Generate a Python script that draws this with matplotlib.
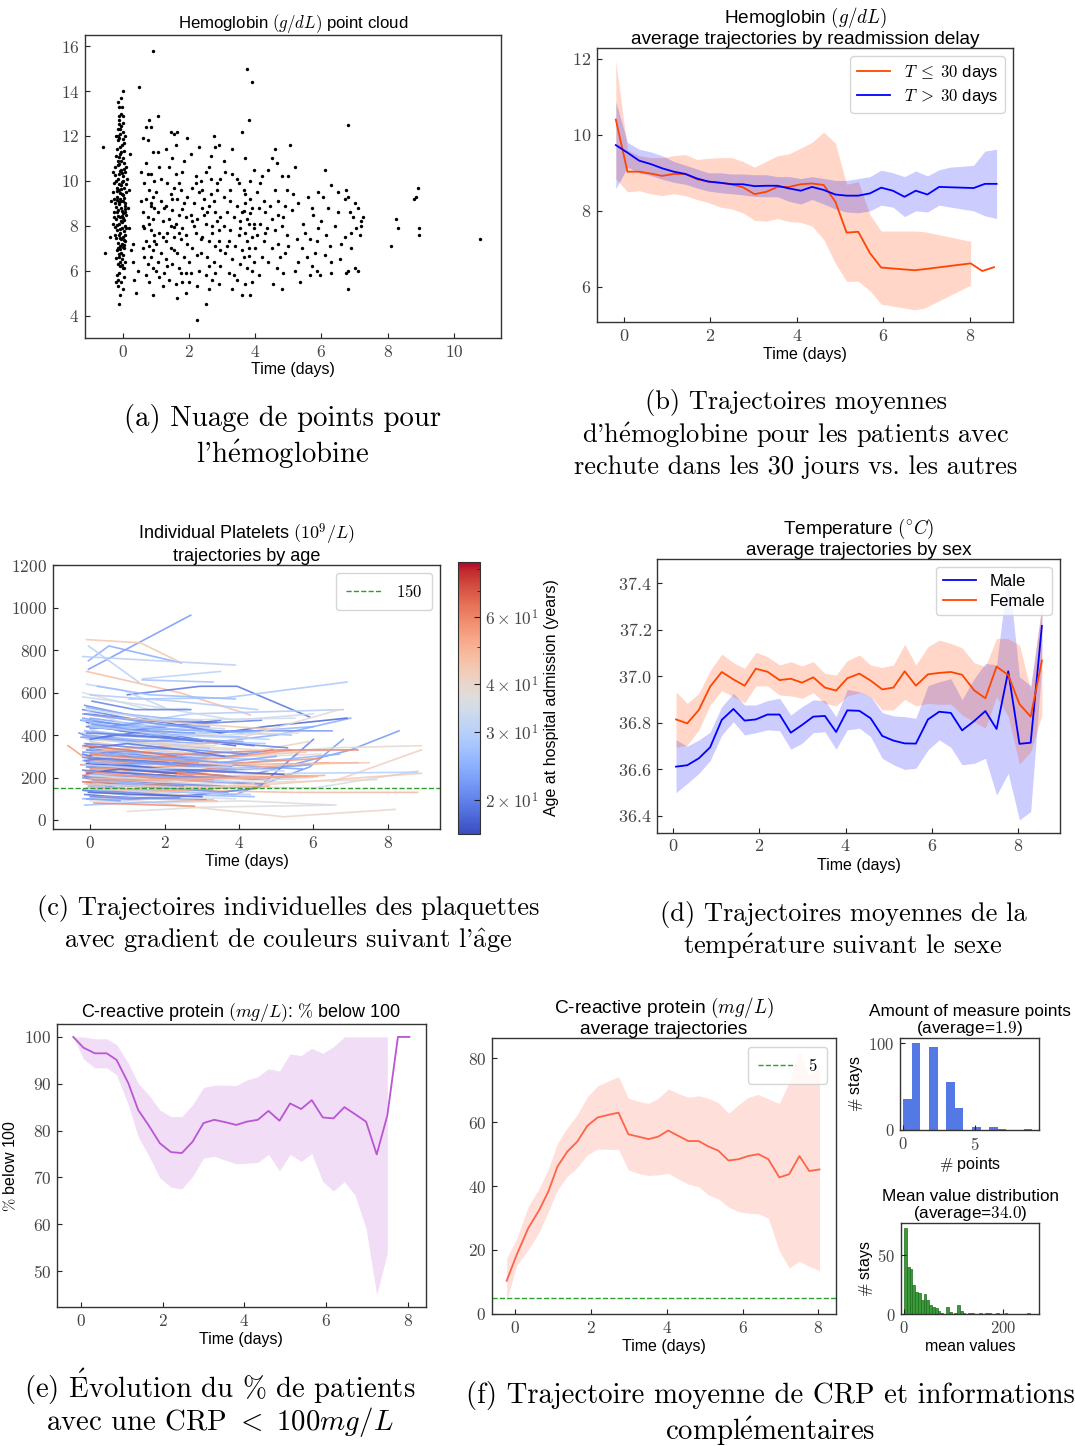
import numpy as np
import matplotlib
matplotlib.use("Agg")
import matplotlib.pyplot as plt
from matplotlib.colors import LogNorm
from matplotlib.cm import ScalarMappable

plt.rcParams['font.family'] = ['Liberation Sans', 'DejaVu Sans']
plt.rcParams['mathtext.fontset'] = 'cm'
plt.rcParams['axes.unicode_minus'] = False

# ---------------- (a) hemoglobin point cloud ----------------
hb_points = [
    (-0.15,13.5),(-0.1,12.9),(-0.05,13.0),(-0.12,12.7),(-0.08,12.3),(0.0,12.6),(-0.2,12.0),(0.02,12.2),
    (-0.1,11.9),(-0.03,11.6),(0.05,11.7),(-0.18,11.4),(-0.07,11.2),(0.0,11.0),(-0.13,10.9),(0.03,10.8),
    (-0.22,10.6),(-0.05,10.5),(0.08,10.4),(-0.1,10.3),(-0.15,10.1),(0.0,10.0),(-0.25,9.9),(-0.06,9.8),
    (0.04,9.7),(-0.12,9.6),(-0.3,9.5),(0.1,9.5),(-0.02,9.4),(-0.17,9.3),(-0.08,9.2),(0.02,9.1),
    (-0.22,9.0),(-0.1,8.95),(0.06,8.9),(-0.04,8.8),(-0.14,8.7),(-0.27,8.6),(0.0,8.55),(0.09,8.5),
    (-0.09,8.4),(-0.19,8.3),(0.03,8.25),(-0.05,8.2),(-0.12,8.1),(0.07,8.0),(-0.24,7.95),(-0.01,7.9),
    (-0.16,7.8),(0.04,7.75),(-0.07,7.7),(-0.11,7.6),(0.01,7.5),(-0.2,7.45),(-0.04,7.4),(0.08,7.3),
    (-0.13,7.25),(-0.02,7.2),(-0.09,7.1),(0.05,7.0),(-0.17,6.9),(-0.06,6.8),(0.02,6.7),(-0.12,6.6),
    (-0.03,6.5),(0.06,6.4),(-0.15,6.3),(-0.08,6.2),(0.0,6.1),(-0.1,5.9),(-0.18,5.8),(0.04,5.7),
    (-0.06,5.5),(-0.13,5.3),(0.02,5.2),(-0.1,9.05),(-0.05,9.65),(0.0,10.2),(-0.14,10.7),(-0.08,11.5),
    (-0.03,8.65),(-0.21,8.85),(0.05,9.25),(-0.11,9.85),(-0.02,10.35),(-0.16,9.15),(0.01,8.35),(-0.07,7.85),
    (-0.13,8.45),(-0.26,9.2),(0.07,8.75),(-0.04,10.9),(-0.09,12.1),(0.0,7.05),(-0.19,6.55),(0.03,11.35),
    (-0.11,13.3),(-0.06,12.45),(0.09,10.6),(-0.23,10.25),(-0.35,9.1),(-0.3,8.1),(-0.4,7.5),(0.15,8.8),
    (0.2,9.6),(0.18,7.9),(0.25,6.9),(0.12,10.1),(0.22,11.2),(0.3,7.2),(0.35,5.6),(0.4,5.0),(0.3,6.4),
    (0.45,6.0),(-0.14,12.0),(-0.02,9.95),(-0.17,8.05),(0.06,7.6),(-0.08,6.95),(-0.12,11.05),(0.01,9.35),
    (-0.14,11.8),(-0.04,11.3),(0.04,10.55),(-0.19,10.0),(-0.09,9.45),(0.06,9.0),(-0.16,8.6),(-0.01,8.15),
    (-0.23,7.6),(0.03,7.15),(-0.11,6.75),(-0.02,6.25),(-0.14,5.6),(-0.07,4.9),(0.1,9.85),(-0.28,10.4),
    (-0.2,11.1),(-0.06,13.7),(0.0,14.0),(-0.13,12.3),(0.08,12.0),(-0.18,9.7),(-0.25,8.4),(0.1,7.9),
    (-0.08,7.45),(0.05,6.1),(-0.2,5.5),(0.02,12.9),(-0.1,10.75),(-0.05,9.1),(0.07,8.6),(-0.15,7.0),
    (-0.03,13.3),(-0.12,12.55),(0.0,11.85),(-0.07,10.45),(-0.17,9.55),(-0.02,8.45),(0.04,7.35),(-0.09,6.4),
    (0.8,12.7),(0.85,12.4),(0.75,11.8),(0.9,11.3),(0.6,11.9),(0.7,10.8),(0.55,10.4),(0.85,10.3),(0.95,10.0),
    (0.65,9.9),(0.8,9.6),(0.9,9.3),(0.7,9.2),(0.85,9.0),(0.95,8.8),(0.6,8.6),(0.75,8.4),(0.9,8.3),(0.8,8.1),
    (0.65,7.9),(0.85,7.8),(0.95,7.6),(0.7,7.3),(0.8,7.1),(0.9,6.9),(0.6,7.0),(0.85,6.6),(0.75,6.3),(0.9,6.1),
    (0.8,5.5),(1.05,12.9),(1.1,10.6),(1.0,9.5),(1.15,9.1),(1.05,8.6),(1.2,8.2),(1.1,7.7),(1.0,7.2),(1.2,7.5),
    (1.15,6.8),(1.05,6.4),(1.25,5.9),(1.1,5.7),
    (1.3,11.4),(1.45,12.2),(1.55,12.1),(1.65,12.2),(1.5,11.0),(1.4,10.6),(1.6,10.3),(1.35,9.9),(1.55,9.7),
    (1.75,9.6),(1.45,9.4),(1.65,9.2),(1.85,9.0),(1.3,8.9),(1.5,8.7),(1.7,8.5),(1.9,8.4),(1.4,8.3),(1.6,8.1),
    (1.8,7.9),(1.35,7.7),(1.55,7.5),(1.75,7.4),(1.95,7.2),(1.45,7.0),(1.65,6.8),(1.85,6.6),(1.3,6.5),(1.5,6.3),
    (1.7,6.1),(1.9,5.9),(1.6,5.4),(1.8,5.5),(1.65,4.8),(1.9,5.0),(1.95,11.9),(1.85,10.9),(1.7,9.9),(1.8,8.75),
    (1.55,7.95),
    (0.55,9.1),(0.6,8.0),(0.65,6.6),(0.7,12.4),(0.75,10.3),(0.85,8.9),(0.95,7.3),(1.0,6.0),(1.05,11.3),
    (1.15,10.1),(1.25,8.8),(1.3,7.3),(1.35,6.2),(1.45,8.0),(1.5,9.2),(1.55,6.9),(1.6,11.6),(1.7,7.7),
    (1.75,5.9),(1.8,10.4),(1.9,7.6),(1.95,9.3),(2.0,6.4),(2.1,8.2),(2.2,9.9),(2.25,6.7),(2.3,11.5),(2.35,7.4),
    (2.4,9.6),(2.55,8.6),(2.6,6.2),(2.65,11.1),(2.7,7.7),(2.75,9.1),(2.8,5.9),(2.85,8.2),(2.95,10.1),
    (2.95,6.9),(1.2,5.3),(1.4,5.6),(2.0,5.5),(2.6,5.2),(0.9,4.9),(0.7,5.8),
    (2.05,11.2),(2.2,10.2),(2.35,10.0),(2.5,10.4),(2.6,10.6),(2.75,12.0),(2.8,11.5),(2.9,11.6),(2.1,9.7),
    (2.3,9.5),(2.45,9.2),(2.65,9.4),(2.85,9.6),(2.15,9.0),(2.4,8.8),(2.6,8.9),(2.8,8.6),(2.95,8.4),(2.05,8.5),
    (2.25,8.3),(2.5,8.1),(2.7,8.0),(2.9,7.8),(2.2,7.7),(2.4,7.5),(2.6,7.3),(2.8,7.1),(2.1,7.0),(2.35,6.8),
    (2.55,6.6),(2.75,6.4),(2.95,6.2),(2.3,6.0),(2.5,5.8),(2.7,5.6),(2.9,5.4),(2.05,5.9),(2.25,5.3),(2.5,4.5),
    (2.85,9.9),(2.65,10.1),(2.45,8.5),(2.15,8.0),(2.9,7.3),
    (3.1,10.4),(3.3,10.3),(3.5,9.9),(3.65,9.6),(3.85,10.0),(3.7,11.0),(3.8,12.7),(3.6,12.2),(3.05,9.3),
    (3.25,9.1),(3.45,8.9),(3.7,9.0),(3.9,8.8),(3.15,8.6),(3.35,8.4),(3.55,8.2),(3.75,8.3),(3.95,8.1),(3.05,8.0),
    (3.25,7.8),(3.5,7.6),(3.7,7.7),(3.9,7.5),(3.2,7.3),(3.4,7.1),(3.6,6.9),(3.8,7.0),(3.1,6.8),(3.3,6.5),
    (3.55,6.3),(3.75,6.1),(3.95,6.4),(3.2,5.9),(3.45,5.6),(3.7,5.4),(3.9,5.5),(3.3,5.2),(3.6,4.9),(3.85,8.55),
    (3.65,8.65),(3.95,7.9),(3.8,6.65),
    (3.05,10.9),(3.15,7.1),(3.25,9.6),(3.35,5.8),(3.45,10.1),(3.55,7.9),(3.6,8.6),(3.65,6.6),(3.7,9.4),
    (3.75,7.3),(3.8,8.1),(3.85,9.2),(3.9,6.0),(3.95,10.5),(4.0,7.0),(4.15,9.9),(4.3,7.7),(4.45,8.9),(4.6,9.6),
    (4.75,6.6),(4.85,8.4),(5.0,7.1),(5.15,9.4),(5.3,6.4),(5.5,7.7),(5.7,8.8),(5.85,6.0),(6.0,8.2),(6.25,7.1),
    (6.5,8.6),(6.7,9.2),(6.9,7.7),(7.0,9.0),(7.2,8.0),(4.6,11.4),(4.2,10.2),(3.3,11.4),(5.0,10.2),(6.3,5.9),
    (4.05,9.5),(4.25,9.1),(4.4,10.5),(4.5,11.0),(4.65,10.8),(4.8,10.2),(4.95,9.6),(4.1,8.8),(4.3,8.6),(4.5,8.3),
    (4.7,8.5),(4.9,8.9),(4.15,8.1),(4.35,7.9),(4.6,7.8),(4.8,8.0),(4.05,7.6),(4.25,7.3),(4.5,7.0),(4.7,7.2),
    (4.9,6.8),(4.2,6.6),(4.4,6.4),(4.65,6.1),(4.85,5.9),(4.1,5.8),(4.55,5.4),(4.8,5.2),(4.7,9.1),(4.95,7.6),
    (5.05,11.6),(5.2,10.6),(5.3,9.0),(5.45,8.1),(5.6,9.3),(5.75,8.5),(5.9,7.9),(5.1,8.7),(5.25,7.4),(5.4,7.0),
    (5.55,6.6),(5.7,6.2),(5.85,7.3),(5.95,5.8),(5.2,6.0),(5.35,5.5),(5.65,5.8),(5.8,6.8),(5.9,9.5),(5.65,7.4),
    (6.1,10.5),(6.3,9.8),(6.5,9.5),(6.05,9.3),(6.2,8.8),(6.4,8.0),(6.6,7.2),(6.75,9.6),(6.8,9.3),(6.85,8.6),
    (6.95,8.4),(7.1,8.8),(7.2,8.2),(7.05,7.9),(7.15,7.6),(6.7,7.5),(6.9,7.0),(6.55,6.5),(6.75,5.9),(6.8,6.0),
    (7.0,6.1),(6.1,6.7),(6.3,6.4),(7.25,8.4),(6.8,12.5),(6.8,5.2),(7.1,6.0),(6.15,7.6),
    (8.1,7.1),(8.3,7.9),(8.25,8.3),(8.8,9.2),(8.9,9.7),(8.85,9.3),(8.95,7.6),(8.95,7.9),(10.8,7.4),
    (0.9,15.8),(3.75,15.0),(3.9,14.4),(0.5,14.2),(-0.1,4.5),(2.25,3.8),(3.85,4.9),(-0.6,11.5),(-0.55,6.8),
]

# ---------------- (b) hemoglobin by readmission delay ----------------
hb_time = [-0.19,0.08,0.35,0.62,0.88,1.15,1.42,1.69,1.95,2.22,2.49,2.75,3.02,3.29,3.55,3.82,4.09,4.35,
           4.62,4.89,5.15,5.42,5.69,5.95,6.22,6.49,6.75,7.02,7.29,7.55,7.82,8.09,8.35,8.62]
hb_short_t = [-0.19,0.08,0.35,0.62,0.88,1.15,1.42,1.69,1.95,2.22,2.49,2.75,3.02,3.29,3.55,3.82,4.09,4.35,
              4.62,4.89,5.15,5.42,5.69,5.95,6.73,6.96,8.02,8.29,8.56]
hb_short = [10.40,9.03,9.03,8.98,8.92,8.97,8.97,8.83,8.77,8.74,8.70,8.62,8.44,8.50,8.63,8.63,8.70,8.72,
            8.68,8.24,7.43,7.45,6.89,6.51,6.44,6.47,6.62,6.42,6.52]
hb_short_hi = [11.95,9.6,9.45,9.4,9.4,9.45,9.48,9.35,9.38,9.4,9.4,9.3,9.15,9.3,9.45,9.5,9.65,9.8,
               10.07,9.78,8.7,8.77,7.9,7.47,7.47,7.45,7.2,np.nan,np.nan]
hb_short_lo = [8.85,8.5,8.53,8.45,8.4,8.45,8.4,8.3,8.22,8.1,8.05,7.95,7.75,7.73,7.8,7.72,7.7,7.6,
               7.25,6.62,6.15,6.15,5.9,5.55,5.4,5.45,6.05,np.nan,np.nan]
hb_long = [9.73,9.53,9.32,9.23,9.12,9.03,8.97,8.85,8.77,8.74,8.70,8.70,8.65,8.66,8.66,8.59,8.53,8.63,
           8.55,8.43,8.40,8.40,8.46,8.61,8.53,8.37,8.53,8.43,8.63,8.62,8.61,8.60,8.71,8.71]
hb_long_hi = [10.87,9.8,9.62,9.55,9.45,9.3,9.2,9.1,9.0,9.0,8.97,8.97,8.95,8.95,8.9,8.9,8.85,8.9,
              8.85,8.8,8.8,8.85,8.9,9.07,9.0,8.9,9.05,8.92,9.08,9.15,9.17,9.2,9.57,9.62]
hb_long_lo = [8.58,9.15,9.0,8.93,8.83,8.75,8.7,8.6,8.52,8.48,8.45,8.42,8.38,8.37,8.37,8.25,8.18,8.3,
              8.18,8.05,7.97,7.95,8.0,8.15,8.1,7.85,8.0,7.97,8.15,8.1,8.05,8.0,7.87,7.8]

# ---------------- (c) platelets individual trajectories (age, times, values) ----------------
platelet_traj = [
    (22,[-0.05,2.7],[710,965]), (24,[-0.05,0.5,2.45],[750,820,740]), (30,[-0.05,1.3],[820,650]),
    (45,[-0.1,1.35,2.45],[850,835,740]), (30,[-0.2,3.9],[770,730]), (47,[-0.1,2.4,4.3],[700,600,495]),
    (31,[1.4,3.5],[665,700]), (19,[1.0,2.95,3.95,5.9],[590,630,630,485]), (28,[1.05,3.6,6.9],[570,575,650]),
    (32,[-0.1,0.9,2.0],[640,610,530]), (36,[-0.2,1.6,2.6],[600,520,525]), (27,[1.4,3.3],[660,650]),
    (26,[0.2,1.6,3.9],[630,590,570]), (21,[-0.15,1.7,3.4],[540,470,460]), (20,[-0.2,1.3,3.0,4.6],[520,470,455,470]),
    (23,[0.0,2.1,4.1],[480,430,410]), (18,[-0.1,0.8,2.2,3.9],[460,420,390,350]), (25,[-0.05,1.8,4.4,6.0],[445,400,420,440]),
    (29,[0.1,2.7,6.8],[430,500,520]), (33,[-0.2,1.2,3.8],[410,350,330]), (21,[-0.3,0.0,2.5],[410,390,350]),
    (24,[-0.1,1.1,3.0,5.0,7.0],[400,380,360,400,480]), (19,[0.0,1.5,2.9,4.4],[380,420,380,350]),
    (22,[-0.15,0.6,2.4],[360,330,300]), (27,[0.05,2.2,5.3],[350,300,280]), (38,[-0.2,2.8,6.2],[340,290,310]),
    (55,[-0.6,-0.2,2.0],[350,300,270]), (20,[-0.1,1.0,2.6,4.0],[330,300,280,260]), (23,[0.0,1.7,3.7,5.7],[310,270,260,240]),
    (41,[-0.2,2.3,4.9],[300,260,240]), (18,[-0.05,0.9,2.1,3.4],[290,260,240,230]), (26,[-0.2,1.4,3.1],[280,250,230]),
    (60,[-0.25,1.2,3.3],[260,280,250]), (52,[0.0,2.5,4.6,6.4],[240,220,250,270]), (21,[-0.1,1.9,3.6],[250,200,180]),
    (39,[-0.15,2.0,5.5],[230,210,190]), (24,[0.05,1.3,2.7],[220,190,170]), (19,[-0.2,0.7,2.2,3.3],[200,170,150,140]),
    (45,[-0.05,1.6,3.9],[190,160,150]), (35,[-0.1,3.0,6.0,8.8],[180,160,150,230]),
    (22,[0.0,1.2,2.6,3.9,5.9,6.8],[170,140,130,120,250,380]), (62,[-0.2,1.5,3.0],[210,240,200]),
    (25,[-0.1,2.1,4.4],[150,120,110]), (40,[-0.05,1.3,2.8,5.2,8.2],[120,90,60,15,50]), (37,[1.0,3.0,6.5],[40,60,70]),
    (48,[0.1,2.5,5.5,8.8],[130,140,130,130]), (42,[6.5,8.9],[180,330]), (44,[2.0,5.0,8.9],[150,170,220]),
    (30,[2.5,5.6,8.8],[200,220,225]), (22,[4.5,7.0,8.3],[220,330,420]), (39,[3.5,6.5,8.9],[300,340,350]),
    (57,[4.0,7.2],[260,270]), (50,[3.0,6.0],[230,205]), (25,[-0.2,1.0,2.2],[100,95,110]),
    (20,[-0.2,0.9,2.4,4.5,6.0],[140,120,110,150,380]), (36,[0.0,1.8,4.1,6.6],[90,80,90,70]),
    (27,[-0.15,1.1,3.3],[70,80,95]), (58,[0.1,1.9,2.8],[80,70,65]), (23,[-0.2,0.4,1.6,3.0],[480,460,430,420]),
    (21,[-0.25,0.8,2.0],[470,450,440]), (26,[0.0,1.4,2.9,4.2],[455,430,400,390]), (19,[-0.1,1.0,3.5],[440,420,470]),
    (28,[0.05,2.0,4.7],[420,380,360]), (24,[-0.2,1.6,3.2],[395,360,340]), (31,[-0.1,2.3],[380,350]),
    (46,[0.0,1.5,3.8,5.8],[370,330,300,320]), (20,[-0.15,0.5,1.7,3.1],[350,320,300,290]),
    (33,[0.1,1.9,4.0,7.0],[340,310,320,330]), (22,[-0.05,1.2,2.4,3.7,4.9],[330,320,310,300,330]),
    (38,[-0.2,1.1,3.4],[320,300,280]), (25,[0.0,1.8,4.2,6.7],[305,280,270,310]), (55,[-0.1,1.3,3.5,5.4],[300,280,290,330]),
    (21,[-0.2,1.0,2.2],[295,270,260]), (43,[0.05,2.6,5.0,7.5],[285,270,260,270]),
    (19,[-0.1,0.7,1.9,2.9,4.0],[275,250,240,220,200]), (28,[0.0,1.5,3.9],[265,240,230]),
    (61,[-0.2,0.9,2.1,3.6],[260,240,220,210]), (23,[-0.05,2.0,4.6,5.9],[250,230,240,260]), (36,[0.1,1.3,3.0],[240,220,200]),
    (20,[-0.2,1.7,3.3,4.8],[235,210,200,190]), (50,[-0.1,1.1,2.7,4.9,6.1],[225,205,190,200,205]),
    (26,[0.0,2.4,4.0],[215,190,180]), (18,[-0.15,0.9,2.2,3.5],[205,185,170,160]),
    (40,[-0.05,1.6,3.2,5.3,7.7],[200,180,170,180,190]), (24,[0.05,1.4,3.6],[190,170,160]), (65,[-0.2,0.8,2.5],[180,170,160]),
    (22,[-0.1,2.0,3.7],[170,150,130]), (30,[0.0,1.2,2.8,4.3],[160,140,130,120]), (53,[-0.05,2.2,4.8],[155,140,160]),
    (21,[-0.2,1.0,2.3],[140,130,115]), (35,[0.1,1.8,3.9],[130,110,100]), (19,[-0.15,0.6,1.9,3.1],[120,110,100,95]),
    (47,[0.0,1.4,3.4],[110,100,90]), (23,[-0.1,0.8],[100,90]), (29,[0.0,2.3,4.5],[590,560,520]),
    (34,[-0.2,1.5,3.9,6.0],[580,540,470,500]), (20,[0.05,1.2,2.7],[560,520,520]), (25,[-0.1,0.9,2.0,3.0],[530,500,480,470]),
    (32,[-0.05,1.0,3.6],[510,450,430]), (18,[-0.15,2.0,3.5,4.7,6.9],[500,460,410,440,480]), (44,[0.1,3.0,5.5],[490,450,420]),
    (27,[-0.2,0.6,2.2,5.4],[470,440,430,400]), (22,[0.0,1.5,3.4,6.5],[430,460,420,420]),
    (60,[-0.05,2.6,5.0,7.2],[260,310,330,330]), (56,[0.0,2.0,4.2,6.2],[240,250,270,290]), (63,[-0.1,1.7,3.6],[200,210,250]),
    (58,[0.1,2.8,5.8],[190,200,205]), (52,[-0.15,1.9,4.0],[280,260,240]), (49,[0.05,1.3,3.9],[320,340,370]),
    (41,[-0.2,2.4,4.6,5.9],[390,350,330,370]), (37,[0.0,1.2,3.5,5.6],[450,420,400,410]), (34,[-0.1,2.0,5.5],[520,470,480]),
    (39,[0.1,3.3,6.7],[380,350,520]), (38,[0.05,1.0,2.5],[365,345,320]), (43,[-0.05,1.7,3.0],[150,130,110]),
    (19,[-0.2,0.3,1.4,2.6],[310,290,280,270]), (21,[0.0,0.8,2.2,3.8],[290,280,270,250]),
    (18,[-0.1,1.1,2.0,3.3,5.2],[265,255,240,230,215]), (20,[0.05,1.9,3.9],[255,240,225]),
    (24,[-0.15,0.7,2.6,4.1],[420,400,380,370]), (23,[-0.25,1.3,2.9],[390,370,380]), (26,[0.0,1.6,3.2],[270,260,300]),
    (19,[-0.1,1.2,2.3],[230,220,205]),
    (21,[-0.1,1.3,2.8,4.2],[360,340,330,310]), (19,[0.0,1.0,2.5,3.6],[340,360,330,300]),
    (23,[-0.2,1.1,2.4,3.5,5.0],[320,300,290,270,300]), (25,[0.05,1.6,2.9],[300,320,290]),
    (20,[-0.15,0.9,2.1],[280,300,270]), (22,[0.0,1.4,3.0,4.5],[250,270,250,240]), (18,[-0.1,0.8,2.3],[220,240,220]),
    (24,[-0.2,1.5,3.3],[200,210,190]), (21,[0.05,1.9,4.6],[180,190,170]), (26,[-0.05,1.0,2.7],[160,170,150]),
    (30,[0.0,2.2,4.8],[440,400,380]), (37,[-0.1,1.3,3.1],[410,390,370]), (40,[0.1,2.0,3.8],[300,280,260]),
    (33,[-0.2,1.6,3.5,5.2],[260,240,250,230]), (36,[0.0,1.7,3.8,6.0],[210,190,180,200]),
    (42,[-0.15,1.2,2.9,4.4],[170,160,150,170]), (19,[0.0,0.6,1.8,3.0],[380,400,390,370]),
    (20,[-0.1,1.2,2.6,3.9,5.3],[410,400,380,360,340]), (22,[0.05,1.4,2.8],[450,420,410]),
    (23,[-0.2,0.7,1.9,3.2],[500,480,450,440]), (18,[-0.05,1.3,3.0],[130,120,110]), (21,[0.0,1.1,2.4],[110,100,105]),
    (56,[-0.1,1.6,3.3],[230,200,180]), (59,[0.0,1.4,2.9],[310,290,270]), (64,[-0.2,1.0,2.3],[350,330,300]),
    (51,[0.05,2.1,4.3,6.3],[180,190,200,210]),
]
platelet_threshold = 150
age_ticks = [20, 30, 40, 60]
age_tick_labels = [r'$2\times10^{1}$', r'$3\times10^{1}$', r'$4\times10^{1}$', r'$6\times10^{1}$']
age_minor_ticks = [50, 70, 80]

# ---------------- (d) temperature by sex ----------------
temp_t = [0.07,0.33,0.60,0.86,1.13,1.40,1.66,1.92,2.19,2.47,2.73,2.99,3.25,3.52,3.78,4.04,4.32,4.58,
          4.85,5.11,5.37,5.63,5.91,6.17,6.44,6.70,6.98,7.24,7.50,7.77,8.03,8.29,8.55]
temp_male = [36.612,36.618,36.648,36.695,36.813,36.860,36.810,36.815,36.836,36.836,36.758,36.791,36.827,
             36.830,36.761,36.854,36.852,36.820,36.744,36.724,36.712,36.711,36.815,36.848,36.843,36.768,
             36.808,36.851,36.774,37.022,36.710,36.715,37.217]
temp_male_hi = [36.727,36.70,36.727,36.76,36.87,36.927,36.877,36.877,36.896,36.906,36.834,36.87,36.899,
                36.896,36.827,36.944,36.934,36.913,36.844,36.83,36.827,36.82,36.96,36.977,36.99,36.90,
                36.99,37.056,37.049,37.457,36.999,36.96,37.30]
temp_male_lo = [36.50,36.54,36.583,36.638,36.748,36.805,36.748,36.758,36.77,36.767,36.687,36.712,36.758,
                36.762,36.687,36.77,36.777,36.741,36.648,36.62,36.60,36.605,36.684,36.727,36.695,36.62,
                36.626,36.648,36.49,36.583,36.383,36.419,37.05]
temp_female = [36.815,36.798,36.856,36.956,37.019,36.987,36.96,37.033,37.02,36.984,36.99,36.973,36.996,
               36.952,36.939,36.992,37.012,36.982,36.944,36.952,37.022,36.96,37.009,37.015,37.019,37.007,
               36.94,36.906,37.042,37.006,36.881,36.827,37.068]
temp_female_hi = [36.934,36.884,36.927,37.025,37.096,37.059,37.034,37.103,37.085,37.049,37.063,37.045,37.063,
                  37.013,37.006,37.068,37.092,37.049,37.038,37.049,37.138,37.049,37.128,37.156,37.142,37.123,
                  37.059,37.042,37.164,37.162,37.135,36.942,37.307]
temp_female_lo = [36.695,36.705,36.77,36.877,36.939,36.913,36.887,36.959,36.959,36.92,36.916,36.906,36.93,
                  36.884,36.873,36.916,36.93,36.913,36.856,36.856,36.901,36.873,36.884,36.88,36.881,36.834,
                  36.805,36.777,36.913,36.827,36.623,36.676,36.834]

# ---------------- (e) CRP % below 100 ----------------
crp_pct_t = [-0.19,0.06,0.34,0.63,0.87,1.16,1.40,1.65,1.93,2.20,2.47,2.73,3.00,3.26,3.53,3.80,4.06,4.33,
             4.59,4.86,5.12,5.39,5.65,5.92,6.18,6.45,6.71,6.98,7.24,7.50,7.76,8.04]
crp_pct = [100,97.7,96.5,96.5,95.1,90.1,84.4,81.2,77.3,75.4,75.2,77.6,81.6,82.3,81.8,81.2,81.9,82.3,
           84.2,82.1,85.8,84.6,86.5,82.8,82.6,85.0,83.5,81.9,74.9,83.2,100,100]
crp_pct_hi = [100,100,99.6,99.6,98.4,94.4,90.1,87.7,84.4,83.0,83.0,85.5,89.2,89.7,89.7,89.6,90.8,91.5,
              93.2,92.7,96.4,96.0,97.6,96.5,97.9,100,100,100,100,100,np.nan,np.nan]
crp_pct_lo = [100,95.3,93.4,93.4,91.9,85.5,78.7,74.8,69.9,67.9,67.5,70.2,74.1,74.5,73.7,72.9,73.0,73.2,
              74.9,71.4,74.9,73.4,75.1,69.1,67.1,69.1,66.2,59.1,44.9,53.8,np.nan,np.nan]

# ---------------- (f) CRP average trajectory ----------------
crp_t = [-0.22,0.04,0.35,0.64,0.88,1.12,1.38,1.64,1.91,2.18,2.46,2.73,2.99,3.25,3.52,3.78,4.04,4.31,
         4.57,4.84,5.10,5.36,5.63,5.89,6.15,6.42,6.68,6.97,7.23,7.50,7.76,8.03]
crp_mean = [10.3,18.3,26.8,32.5,38.3,46.1,50.8,53.9,58.9,61.5,62.3,63.0,56.2,55.5,54.7,55.5,57.4,55.7,
            54.1,54.1,52.4,51.1,48.0,48.4,49.4,50.0,48.4,42.7,43.7,49.4,44.7,45.2]
crp_hi = [17.4,23.4,33.6,39.3,45.4,53.4,58.3,62.3,68.0,71.4,72.9,74.3,67.5,66.6,65.9,67.5,70.4,69.0,
          67.8,68.3,67.5,66.2,62.8,65.4,67.8,68.7,67.3,65.9,72.5,82.3,74.8,77.4]
crp_lo = [3.9,15.0,20.0,25.6,32.0,38.8,43.0,45.8,49.8,51.6,51.5,51.5,45.1,44.0,43.3,43.5,44.0,42.2,
          40.6,39.8,37.2,36.0,33.4,32.0,31.5,31.3,29.9,19.7,14.3,16.4,14.8,13.5]
crp_threshold = 5

n_points_values = [0, 1, 2, 3, 4, 5, 6, 7, 9]
n_points_counts = [36, 101, 96, 56, 25, 3, 3, 1, 1]
mean_bin_lo = 0.0
mean_bin_hi = 255.0
mean_counts = [73,40,38,25,19,18,12,17,12,8,6,5,3,1,0,6,2,0,1,8,3,1,0,1,1,0,0,1,0,1,
               1,0,0,1,0,0,1,0,0,0,0,0,0,0,1]
mean_average = 34.0

# ====================================================================
W, H = 1075, 1446
fig = plt.figure(figsize=(W/100, H/100), dpi=100)

def add_ax(l, r, t, b):
    return fig.add_axes([l/W, 1-b/H, (r-l)/W, (b-t)/H])

TICKC = '#444444'
def style(ax, xt, yt, xl=None, yl=None, fs=12.5, yfmt='{:g}'):
    ax.set_xticks(xt, [f'${v:g}$' for v in xt])
    ax.set_yticks(yt, ['$' + yfmt.format(v) + '$' for v in yt])
    ax.tick_params(direction='in', length=3.5, width=0.8, labelsize=fs, colors='#222222',
                   labelcolor=TICKC, pad=4)
    for s in ax.spines.values():
        s.set_color('#333333'); s.set_linewidth(1.0)
    if xl is not None:
        ax.set_xlim(*xl)
    if yl is not None:
        ax.set_ylim(*yl)

LFS = 11.5
TKW = dict(pad=3, linespacing=1.05)

# (a)
ax = add_ax(85, 501, 35, 338)
pa = np.array(hb_points)
ax.scatter(pa[:, 0], pa[:, 1], s=6, color='black', linewidths=0)
style(ax, [0, 2, 4, 6, 8, 10], [4, 6, 8, 10, 12, 14, 16], (-1.14, 11.42), (3.0, 16.5))
ax.set_title(r'Hemoglobin $(g/dL)$ point cloud', fontsize=12.1, pad=4)
ax.set_xlabel('Time (days)', fontsize=LFS, labelpad=2)

# (b)
ax = add_ax(597, 1013, 48, 322)
ax.fill_between(hb_short_t, hb_short_lo, hb_short_hi, color='orangered', alpha=0.22, linewidth=0)
ax.fill_between(hb_time, hb_long_lo, hb_long_hi, color='blue', alpha=0.2, linewidth=0)
ax.plot(hb_short_t, hb_short, color='orangered', lw=1.3, label=r'$T\;\leq\;30$ days')
ax.plot(hb_time, hb_long, color='blue', lw=1.3, label=r'$T\;>\;30$ days')
style(ax, [0, 2, 4, 6, 8], [6, 8, 10, 12], (-0.625, 9.0), (5.08, 12.28), fs=13)
ax.set_title('Hemoglobin $(g/dL)$\naverage trajectories by readmission delay', fontsize=13.7, **TKW)
ax.set_xlabel('Time (days)', fontsize=LFS, labelpad=2)
ax.legend(loc='upper right', fontsize=12, handlelength=2.0, borderpad=0.4, labelspacing=0.3)

# (c)
ax = add_ax(52.7, 440.3, 564.7, 829.3)
norm = LogNorm(vmin=16.3, vmax=83.4)
cmap = plt.get_cmap('coolwarm')
for age, ts, vs in platelet_traj:
    ax.plot(ts, vs, color=cmap(norm(age)), lw=1.2, alpha=0.85)
ax.axhline(platelet_threshold, color='#2ca02c', ls='--', lw=1.0, label=f'${platelet_threshold}$')
style(ax, [0, 2, 4, 6, 8], [0, 200, 400, 600, 800, 1000, 1200], (-1.01, 9.41), (-44, 1203))
ax.set_title('Individual Platelets $(10^9/L)$\ntrajectories by age', fontsize=13, **TKW)
ax.set_xlabel('Time (days)', fontsize=LFS, labelpad=2)
ax.legend(loc='upper right', fontsize=12, handlelength=2.2, borderpad=0.6)
cax = add_ax(457.7, 480, 561.7, 834)
cb = fig.colorbar(ScalarMappable(norm=norm, cmap=cmap), cax=cax)
cb.outline.set_edgecolor('#333333')
cax.yaxis.set_ticks(age_ticks, labels=age_tick_labels)
cax.yaxis.set_ticks(age_minor_ticks, labels=['' for _ in age_minor_ticks], minor=True)
cax.tick_params(which='both', direction='in', labelsize=12.5, labelcolor=TICKC, colors='#222222')
cax.tick_params(which='major', length=4)
cax.tick_params(which='minor', length=2.5)
cb.set_label('Age at hospital admission (years)', fontsize=LFS, labelpad=4)

# (d)
ax = add_ax(657.3, 1060, 558.7, 832.7)
ax.fill_between(temp_t, temp_male_lo, temp_male_hi, color='blue', alpha=0.2, linewidth=0)
ax.fill_between(temp_t, temp_female_lo, temp_female_hi, color='orangered', alpha=0.22, linewidth=0)
ax.plot(temp_t, temp_male, color='blue', lw=1.3, label='Male')
ax.plot(temp_t, temp_female, color='orangered', lw=1.3, label='Female')
style(ax, [0, 2, 4, 6, 8], [36.4, 36.6, 36.8, 37.0, 37.2, 37.4], (-0.364, 8.97), (36.328, 37.506),
      fs=13, yfmt='{:.1f}')
ax.set_title('Temperature $(^{\\circ}C)$\naverage trajectories by sex', fontsize=13.7, **TKW)
ax.set_xlabel('Time (days)', fontsize=LFS, labelpad=2)
ax.legend(loc='upper right', fontsize=12, handlelength=2.0, borderpad=0.4, labelspacing=0.3)

# (e)
ax = add_ax(56.7, 425.7, 1024.3, 1307.3)
ax.fill_between(crp_pct_t, crp_pct_lo, crp_pct_hi, color='mediumorchid', alpha=0.2, linewidth=0)
ax.plot(crp_pct_t, crp_pct, color='mediumorchid', lw=1.3)
style(ax, [0, 2, 4, 6, 8], [50, 60, 70, 80, 90, 100], (-0.595, 8.44), (42.24, 102.7))
ax.set_title(r'C-reactive protein $(mg/L)$: $\%$ below 100', fontsize=13, pad=4)
ax.set_xlabel('Time (days)', fontsize=LFS, labelpad=2)
ax.set_ylabel(r'$\%$ below 100', fontsize=LFS, labelpad=4)

# (f)
ax = add_ax(491.7, 835.7, 1038.3, 1314.3)
ax.fill_between(crp_t, crp_lo, crp_hi, color='tomato', alpha=0.2, linewidth=0)
ax.plot(crp_t, crp_mean, color='tomato', lw=1.3)
ax.axhline(crp_threshold, color='#2ca02c', ls='--', lw=1.0, label=f'${crp_threshold}$')
style(ax, [0, 2, 4, 6, 8], [0, 20, 40, 60, 80], (-0.614, 8.457), (-0.2, 86.3))
ax.set_title('C-reactive protein $(mg/L)$\naverage trajectories', fontsize=13.8, **TKW)
ax.set_xlabel('Time (days)', fontsize=LFS, labelpad=2)
ax.legend(loc='upper right', fontsize=12, handlelength=2.2, borderpad=0.6)

# histogram: number of points
ax = add_ax(900, 1039, 1038.3, 1130)
ax.hist(n_points_values, bins=15, range=(0, 9), weights=n_points_counts, color='royalblue', alpha=0.9)
style(ax, [0, 5], [0, 100], (-0.23, 9.47), (0, 106), fs=12)
avg_pts = np.dot(n_points_values, n_points_counts) / np.sum(n_points_counts)
ax.set_title(f'Amount of measure points\n(average=${avg_pts:.1f}$)', fontsize=12.4, pad=3, linespacing=1.0)
ax.set_xlabel(r'$\#$ points', fontsize=LFS, labelpad=2)
ax.set_ylabel(r'$\#$ stays', fontsize=LFS, labelpad=2)

# histogram: mean values
ax = add_ax(901, 1039, 1223.3, 1314.3)
edges = np.linspace(mean_bin_lo, mean_bin_hi, len(mean_counts) + 1)
ax.bar(edges[:-1], mean_counts, width=np.diff(edges), align='edge', color='#3a9a3a',
       edgecolor='#1e6e1e', linewidth=0.5)
style(ax, [0, 200], [0, 50], (-6, 273.6), (0, 77), fs=12)
ax.set_title(f'Mean value distribution\n(average=${mean_average:.1f}$)', fontsize=12.3, pad=3, linespacing=1.0)
ax.set_xlabel('mean values', fontsize=LFS, labelpad=2)
ax.set_ylabel(r'$\#$ stays', fontsize=LFS, labelpad=2)

# captions
def cap(x, y, s, fs=19):
    fig.text(x/W, 1-y/H, s, fontsize=fs, family=['cmr10', 'DejaVu Serif'], ha='center', va='center')

E_ACUTE = r'$\mathrm{\acute{e}}$'
A_HAT = r'$\mathrm{\hat{a}}$'
CAP_E = r'$\mathrm{\acute{E}}$'
cap(283, 418, '(a) Nuage de points pour', 20.7)
cap(283, 454, "l'h" + E_ACUTE + 'moglobine', 20.7)
cap(796, 403, '(b) Trajectoires moyennes')
cap(796, 435, "d'h" + E_ACUTE + 'moglobine pour les patients avec')
cap(796, 467, 'rechute dans les 30 jours vs. les autres')
cap(288, 909, '(c) Trajectoires individuelles des plaquettes')
cap(288, 941, "avec gradient de couleurs suivant l'" + A_HAT + 'ge')
cap(843, 914, '(d) Trajectoires moyennes de la')
cap(843, 946, 'temp' + E_ACUTE + 'rature suivant le sexe')
cap(220, 1386, '(e) ' + CAP_E + 'volution du % de patients', 20.7)
cap(220, 1422, r'avec une CRP $<\ 100mg/L$', 20.7)
cap(770, 1395, '(f) Trajectoire moyenne de CRP et informations', 20.7)
cap(770, 1431, 'compl' + E_ACUTE + 'mentaires', 20.7)

fig.savefig('out.png', dpi=100)
